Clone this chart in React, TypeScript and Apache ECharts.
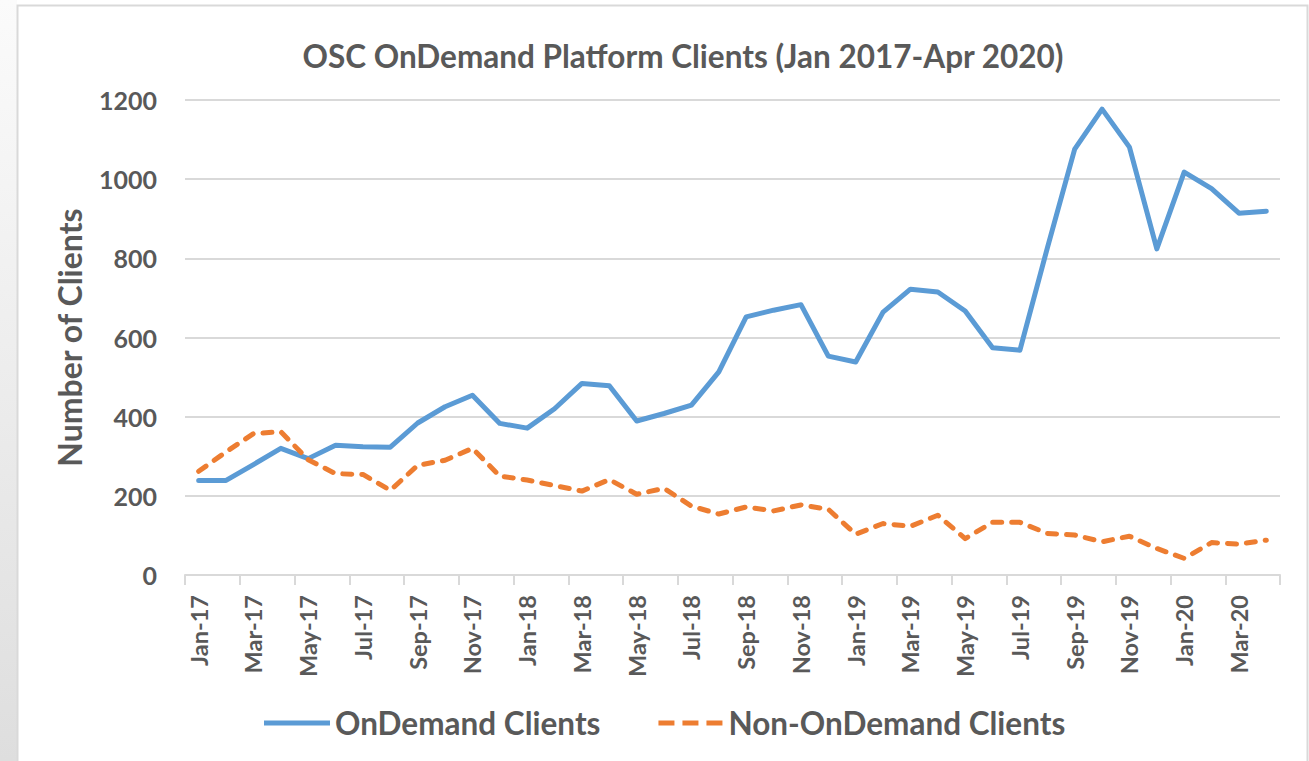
import React, { useEffect, useRef } from "react";
import * as echarts from "echarts";

const months = [
  "Jan-17","Feb-17","Mar-17","Apr-17","May-17","Jun-17","Jul-17","Aug-17","Sep-17","Oct-17","Nov-17","Dec-17",
  "Jan-18","Feb-18","Mar-18","Apr-18","May-18","Jun-18","Jul-18","Aug-18","Sep-18","Oct-18","Nov-18","Dec-18",
  "Jan-19","Feb-19","Mar-19","Apr-19","May-19","Jun-19","Jul-19","Aug-19","Sep-19","Oct-19","Nov-19","Dec-19",
  "Jan-20","Feb-20","Mar-20","Apr-20",
];

const onDemandClients = [
  239, 239, 279, 320, 294, 328, 324, 323, 384, 425, 454, 383,
  371, 420, 484, 478, 389, 408, 429, 513, 652, 669, 683, 553,
  538, 664, 722, 715, 667, 574, 568, 826, 1076, 1177, 1081, 824,
  1018, 976, 914, 919,
];

const nonOnDemandClients = [
  262, 311, 357, 362, 291, 256, 254, 214, 277, 290, 320, 250,
  240, 226, 212, 241, 204, 219, 174, 154, 172, 162, 177, 166,
  103, 130, 123, 151, 92, 133, 133, 105, 101, 84, 98, 67,
  42, 82, 78, 88,
];

const yTicks = [0, 200, 400, 600, 800, 1000, 1200];

const TEXT = "#595959";
const GRID = "#d9d9d9";
const BLUE = "#5b9bd5";
const ORANGE = "#ed7d31";
const FONT = "Lato, 'Open Sans', sans-serif";

export default function App() {
  const ref = useRef<HTMLDivElement>(null);

  useEffect(() => {
    if (!ref.current) return;
    const chart = echarts.init(ref.current, undefined, { renderer: "svg" });
    chart.setOption({
      animation: false,
      backgroundColor: "#ffffff",
      textStyle: { fontFamily: FONT },
      graphic: [
        {
          type: "rect",
          z: -10,
          shape: { x: 0, y: 0, width: 17, height: 761 },
          style: {
            fill: new echarts.graphic.LinearGradient(0, 0, 0, 1, [
              { offset: 0, color: "#fbfbfb" },
              { offset: 1, color: "#dedede" },
            ]),
          },
        },
        {
          type: "rect",
          z: -9,
          shape: { x: 17.5, y: 5.5, width: 1290, height: 800 },
          style: { fill: "#ffffff", stroke: GRID, lineWidth: 2 },
        },
      ],
      title: {
        text: "OSC OnDemand Platform Clients (Jan 2017-Apr 2020)",
        left: 678,
        top: 35,
        textAlign: "center",
        textStyle: { color: TEXT, fontSize: 31.5, fontWeight: "bold", fontFamily: FONT },
      },
      legend: {
        left: 259,
        top: 702,
        itemWidth: 66,
        itemHeight: 5,
        itemGap: 58,
        textStyle: { color: TEXT, fontSize: 31.5, fontWeight: "bold", fontFamily: FONT },
        data: [
          { name: "OnDemand Clients", icon: "path://M0,0H66V5H0Z" },
          {
            name: "Non-OnDemand Clients",
            icon: "path://M0,0H16V5H0Z M24,0H40V5H24Z M48,0H64V5H48Z",
          },
        ],
      },
      grid: { left: 185, right: 29, top: 100, bottom: 186, containLabel: false },
      xAxis: {
        type: "category",
        data: months,
        boundaryGap: true,
        axisLine: { lineStyle: { color: GRID, width: 2 } },
        axisTick: { show: true, interval: 1, length: 10, lineStyle: { color: GRID, width: 2 } },
        axisLabel: {
          interval: 1,
          rotate: 90,
          margin: 20,
          color: TEXT,
          fontSize: 23.5,
          fontWeight: "bold",
          fontFamily: FONT,
        },
        splitLine: { show: false },
      },
      yAxis: {
        type: "value",
        min: yTicks[0],
        max: yTicks[yTicks.length - 1],
        interval: 200,
        name: "Number of Clients",
        nameLocation: "middle",
        nameGap: 100,
        nameTextStyle: { color: TEXT, fontSize: 32, fontWeight: "bold", fontFamily: FONT },
        axisLine: { show: false },
        axisTick: { show: false },
        axisLabel: {
          margin: 28,
          color: TEXT,
          fontSize: 25,
          fontWeight: "bold",
          fontFamily: FONT,
          formatter: (v: number) => String(v),
        },
        splitLine: { lineStyle: { color: GRID, width: 2 } },
      },
      series: [
        {
          name: "OnDemand Clients",
          type: "line",
          data: onDemandClients,
          symbol: "none",
          color: BLUE,
          lineStyle: { color: BLUE, width: 5, join: "round", cap: "round" },
        },
        {
          name: "Non-OnDemand Clients",
          type: "line",
          data: nonOnDemandClients,
          symbol: "none",
          color: ORANGE,
          lineStyle: { color: ORANGE, width: 5, type: [9, 10], cap: "round", join: "round" },
        },
      ],
    });
    return () => chart.dispose();
  }, []);

  return (
    <div
      ref={ref}
      style={{ position: "fixed", left: 0, top: 0, width: 1309, height: 761 }}
    />
  );
}
